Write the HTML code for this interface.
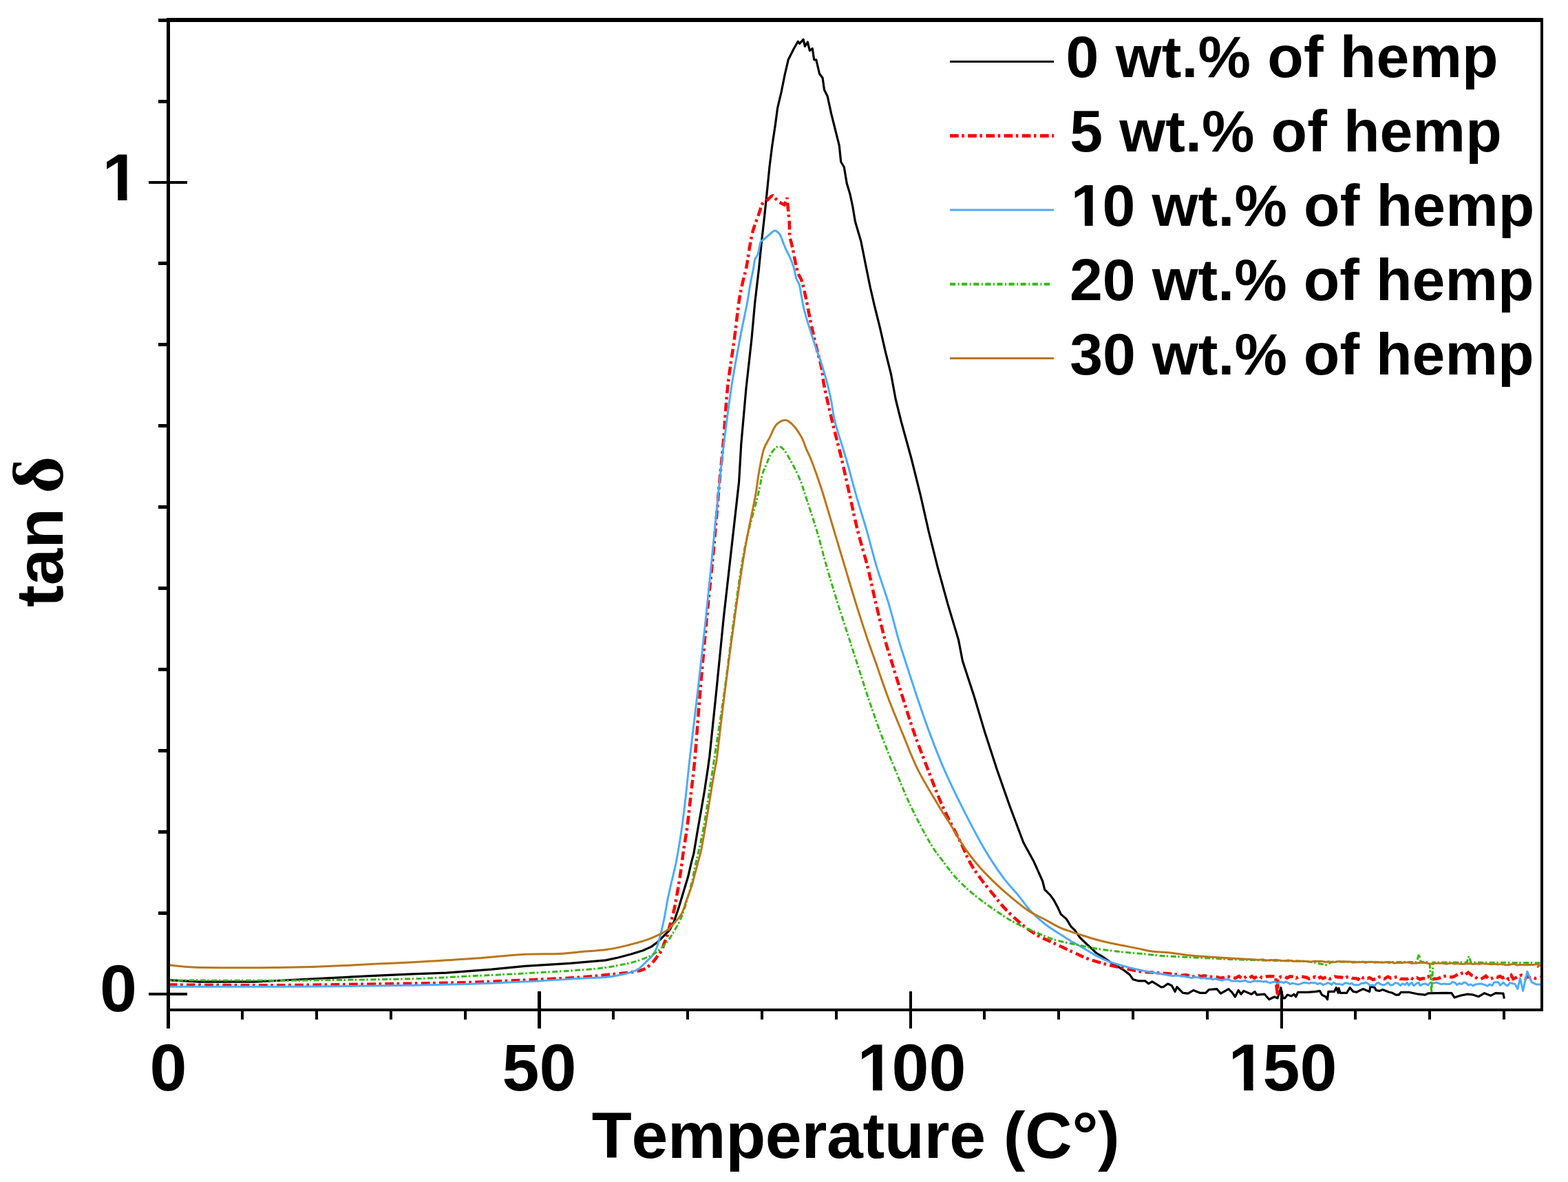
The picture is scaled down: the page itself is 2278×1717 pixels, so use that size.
<!DOCTYPE html>
<html><head><meta charset="utf-8"><title>tan delta vs temperature</title>
<style>html,body{margin:0;padding:0;background:#fff;overflow:hidden}svg{display:block} text{font-kerning:none}</style>
</head><body>
<svg width="2278" height="1717" viewBox="0 0 2278 1717">
<rect width="2278" height="1717" fill="#fff"/>
<g id="curves"><polyline points="244.9,1423.7 288.8,1426.2 370.0,1426.2 402.8,1424.5 451.6,1422.0 500.4,1419.6 549.2,1417.2 600.0,1414.8 648.8,1413.1 714.0,1408.2 762.8,1403.4 827.9,1399.3 880.0,1394.9 898.0,1391.0 916.0,1386.2 934.0,1380.8 946.0,1375.4 955.0,1368.8 964.0,1359.8 973.0,1350.8 979.5,1338.0 986.7,1316.4 993.2,1294.8 999.7,1273.2 1004.7,1251.6 1007.9,1240.0 1012.6,1211.4 1018.1,1180.2 1023.5,1149.0 1028.2,1117.8 1030.7,1100.0 1040.4,1007.2 1051.4,896.6 1062.5,798.3 1073.6,700.0 1076.8,644.9 1084.0,563.9 1092.0,492.0 1096.7,440.0 1102.3,392.4 1106.4,351.6 1111.0,310.8 1114.8,274.0 1117.9,242.8 1121.8,211.6 1126.5,180.4 1129.6,157.0 1135.1,133.6 1139.8,110.2 1145.2,86.8 1153.0,71.2 1159.3,60.3 1161.6,63.4 1167.1,57.2 1169.4,67.3 1173.3,61.0 1176.4,73.5 1180.3,70.4 1182.7,86.8 1185.8,86.8 1190.5,107.0 1195.1,113.3 1197.5,130.5 1202.2,139.8 1207.6,164.8 1215.4,196.0 1219.3,211.6 1221.7,235.0 1226.3,242.8 1230.2,266.2 1234.9,281.8 1238.8,300.0 1242.4,321.8 1250.8,350.4 1257.5,384.0 1264.3,417.5 1270.1,442.7 1278.5,476.3 1286.1,509.9 1294.5,543.5 1301.2,580.0 1309.4,612.8 1323.9,665.5 1337.1,718.3 1349.0,771.1 1362.2,823.9 1376.7,876.6 1392.5,929.4 1398.4,960.0 1415.6,1012.8 1431.4,1065.6 1448.6,1118.4 1467.1,1171.2 1486.9,1224.0 1501.4,1250.4 1514.7,1280.0 1517.7,1292.2 1525.9,1300.4 1531.0,1307.5 1537.1,1318.8 1541.2,1327.9 1549.4,1335.1 1555.5,1345.3 1561.6,1351.4 1568.7,1361.6 1576.9,1369.7 1585.0,1376.9 1592.2,1384.0 1602.4,1390.1 1612.6,1397.3 1622.8,1403.4 1633.0,1409.5 1641.1,1415.6 1646.2,1422.8 1653.4,1424.8 1663.6,1424.8 1668.7,1428.9 1673.8,1425.8 1678.9,1428.9 1687.0,1434.0 1690.0,1433.7 1696.6,1429.0 1702.3,1431.8 1707.1,1440.4 1709.9,1433.7 1713.7,1437.5 1718.5,1442.3 1726.1,1443.2 1733.7,1438.5 1743.2,1442.3 1751.7,1442.3 1756.5,1437.5 1767.9,1436.6 1773.5,1443.2 1784.9,1436.6 1789.7,1441.3 1794.4,1448.0 1799.2,1438.5 1803.0,1444.2 1806.8,1439.4 1818.2,1444.2 1822.9,1440.4 1825.8,1445.1 1837.2,1444.2 1843.8,1451.8 1851.4,1448.0 1856.1,1449.9 1860.9,1434.7 1863.7,1449.9 1866.6,1449.9 1870.4,1445.1 1876.1,1447.0 1879.9,1444.2 1882.7,1448.0 1885.6,1441.3 1900.0,1441.3 1911.8,1440.4 1917.5,1439.4 1920.4,1445.1 1926.1,1448.0 1928.5,1451.8 1929.9,1440.4 1938.4,1440.4 1941.3,1434.7 1944.1,1442.3 1945.1,1435.6 1947.0,1442.3 1956.5,1442.3 1961.2,1434.7 1966.0,1440.4 1970.7,1441.3 1980.2,1436.6 1989.7,1440.4 1990.6,1433.7 1994.4,1433.7 1997.3,1434.7 1999.2,1438.5 2003.9,1439.4 2008.7,1437.5 2018.2,1441.3 2022.9,1442.3 2027.7,1445.1 2032.4,1445.1 2035.3,1441.3 2046.7,1441.3 2060.9,1444.2 2070.4,1445.1 2075.1,1442.8 2100.0,1442.3 2108.9,1442.7 2113.1,1449.1 2121.5,1446.3 2132.0,1444.1 2139.1,1444.8 2148.2,1447.7 2156.6,1442.7 2165.7,1446.3 2172.7,1442.7 2183.9,1443.1 2185.3,1450.5" fill="none" stroke="#000" stroke-width="3.2" stroke-linejoin="round"/>
<path d="M244.9,1430.5C271.2,1430.6 343.6,1431.5 402.8,1431.2C462.0,1430.9 553.6,1429.3 600.0,1428.6C646.4,1427.9 654.3,1427.8 681.4,1427.0C708.5,1426.2 735.7,1424.9 762.8,1423.7C789.9,1422.5 824.5,1420.8 844.0,1419.6C863.5,1418.3 870.0,1417.2 880.0,1416.2C890.0,1415.2 897.0,1414.6 904.0,1413.8C911.0,1413.0 916.5,1412.5 922.0,1411.4C927.5,1410.3 932.5,1409.6 937.0,1407.2C941.5,1404.8 946.0,1400.0 949.0,1397.0C952.0,1394.0 953.0,1391.9 955.0,1389.2C957.0,1386.5 959.3,1384.0 961.0,1380.8C962.7,1377.6 963.7,1373.3 965.0,1370.0C966.3,1366.7 967.5,1365.1 968.8,1361.0C970.1,1356.9 971.3,1351.4 973.0,1345.2C974.7,1339.0 977.1,1330.8 978.8,1323.6C980.5,1316.4 981.8,1309.2 983.1,1302.0C984.4,1294.8 985.6,1287.6 986.7,1280.4C987.9,1273.2 989.0,1266.0 990.0,1258.8C991.0,1251.6 991.4,1247.0 992.8,1237.2C994.2,1227.4 996.6,1214.5 998.5,1200.0C1000.4,1185.5 1002.3,1166.7 1004.2,1150.0C1006.1,1133.3 1007.6,1123.8 1009.7,1100.0C1011.8,1076.2 1014.1,1041.1 1017.0,1007.2C1019.9,973.3 1023.6,931.4 1026.9,896.6C1030.2,861.8 1033.6,831.1 1036.7,798.3C1039.8,765.5 1043.0,725.6 1045.3,700.0C1047.6,674.4 1048.8,667.6 1050.7,644.9C1052.7,622.2 1054.3,589.4 1057.0,563.9C1059.7,538.4 1064.2,512.6 1066.9,492.0C1069.6,471.4 1071.4,453.2 1073.3,440.0C1075.2,426.8 1076.5,421.6 1078.4,412.8C1080.3,404.0 1082.8,395.8 1084.5,387.3C1086.2,378.8 1087.1,370.3 1088.6,361.8C1090.1,353.3 1091.4,344.5 1093.6,336.3C1095.8,328.1 1099.4,319.6 1101.8,312.8C1104.2,306.0 1105.7,299.2 1107.9,295.5C1110.1,291.8 1112.5,292.3 1115.0,290.4C1117.5,288.5 1120.5,283.8 1123.2,284.3L1131.4,293.5L1139.5,297.5L1143.6,287.3L1144.6,300.6L1146.7,321.0L1147.2,341.4C1148.0,348.2 1150.4,355.0 1151.8,361.8C1153.2,368.6 1154.4,376.2 1155.8,382.2C1157.2,388.2 1158.4,393.5 1160.0,398.0C1161.6,402.5 1163.4,403.1 1165.2,409.2C1167.0,415.2 1169.0,424.5 1171.1,434.3C1173.2,444.1 1175.4,456.7 1177.8,467.9C1180.2,479.1 1182.6,490.3 1185.3,501.5C1188.0,512.7 1191.7,525.4 1193.7,535.1C1195.7,544.9 1194.7,547.0 1197.3,560.0C1199.9,573.0 1205.0,595.2 1209.2,612.8C1213.4,630.4 1218.2,647.9 1222.4,665.5C1226.6,683.1 1230.2,700.7 1234.2,718.3C1238.2,735.9 1241.7,753.5 1246.1,771.1C1250.5,788.7 1256.2,806.3 1260.6,823.9C1265.0,841.5 1268.3,859.0 1272.5,876.6C1276.7,894.2 1282.0,915.5 1285.7,929.4C1289.5,943.3 1290.7,946.1 1295.0,960.0C1299.3,973.9 1305.7,995.2 1311.3,1012.8C1316.9,1030.4 1322.2,1048.0 1328.4,1065.6C1334.6,1083.2 1341.5,1100.8 1348.3,1118.4C1355.1,1136.0 1361.5,1153.6 1369.4,1171.2C1377.3,1188.8 1389.2,1210.4 1395.8,1224.0C1402.4,1237.6 1404.3,1244.0 1409.2,1252.9C1414.1,1261.8 1419.5,1269.1 1425.4,1277.2C1431.3,1285.3 1438.9,1294.2 1444.8,1301.5C1450.7,1308.8 1454.5,1314.2 1461.0,1320.9C1467.5,1327.7 1476.2,1335.8 1483.7,1342.0C1491.2,1348.2 1498.6,1353.6 1506.3,1358.2C1514.0,1362.8 1521.5,1365.5 1530.0,1369.5C1538.5,1373.5 1548.8,1378.5 1557.5,1382.5C1566.2,1386.5 1573.3,1390.0 1582.0,1393.2C1590.7,1396.4 1601.0,1399.2 1609.5,1401.4C1618.0,1403.6 1624.8,1404.8 1633.0,1406.5L1658.5,1411.6L1700.0,1414.5L1704.1,1416.0L1708.1,1415.6L1712.3,1415.5L1716.3,1416.9L1721.0,1416.2L1724.5,1416.4L1729.3,1417.9L1732.2,1418.7L1737.3,1418.3L1741.6,1417.3L1744.4,1418.3L1747.3,1417.7L1750.7,1417.4L1754.6,1418.6L1759.5,1419.0L1763.8,1419.2L1768.2,1419.3L1771.7,1420.7L1776.8,1420.3L1781.3,1418.9L1784.7,1418.8L1787.7,1420.1L1791.4,1420.4L1795.2,1420.7L1800.0,1418.0L1803.3,1420.6L1807.2,1420.8L1811.0,1418.2L1815.3,1420.2L1818.7,1418.2L1822.3,1420.8L1826.9,1418.2L1830.3,1418.2L1833.3,1420.3L1836.5,1419.6L1840.4,1418.4L1844.9,1418.2L1849.3,1418.2L1853.1,1418.5L1856.0,1446.0L1856.5,1420.9L1861.3,1418.7L1866.2,1418.4L1869.9,1420.7L1874.3,1418.2L1879.5,1418.7L1882.9,1420.8L1886.5,1419.2L1889.4,1418.5L1893.6,1419.1L1897.9,1419.7L1901.8,1421.9L1905.7,1420.5L1910.6,1419.1L1913.8,1421.8L1918.5,1419.4L1921.8,1421.3L1926.9,1419.2L1931.9,1421.9L1936.2,1420.2L1939.2,1418.7L1944.3,1419.5L1948.8,1419.6L1953.6,1421.0L1957.1,1419.3L1961.6,1418.9L1965.0,1421.0L1969.8,1421.2L1973.3,1422.6L1976.6,1418.7L1980.0,1420.6L1983.0,1419.5L1986.7,1421.2L1989.8,1420.3L1994.7,1423.1L1999.1,1421.8L2003.3,1419.4L2006.2,1418.8L2011.2,1421.9L2016.3,1418.7L2020.6,1420.8L2025.2,1420.0L2030.4,1418.8L2034.5,1422.0L2039.4,1421.9L2043.9,1422.2L2048.9,1420.0L2053.4,1422.7L2058.3,1420.3L2063.0,1422.5L2067.1,1421.3L2070.8,1421.1L2075.1,1418.5L2079.4,1423.1L2084.4,1421.8L2088.1,1421.8L2092.3,1420.2L2097.1,1418.3L2101.7,1417.6L2105.9,1419.0L2109.3,1419.4L2113.3,1418.1L2118.3,1415.0L2121.1,1414.6L2125.5,1413.0L2128.8,1416.1L2133.1,1412.6L2138.1,1416.7L2142.5,1418.3L2146.3,1421.7L2151.3,1422.1L2155.0,1420.4L2158.6,1417.8L2162.6,1421.8L2167.4,1421.0L2172.5,1418.5L2175.7,1419.5L2179.2,1418.0L2183.0,1420.4L2186.9,1418.6L2191.8,1422.5L2195.6,1417.0L2198.5,1421.9L2201.4,1420.8L2205.6,1418.4L2210.3,1416.5L2213.4,1419.2L2216.3,1421.5L2219.6,1417.2L2222.6,1420.2L2226.4,1420.2L2230.8,1421.3L2235.9,1420.5L2238.0,1419.3" fill="none" stroke="#ff0000" stroke-width="4.5" stroke-dasharray="12.7 4.5 3.6 5.4"/>
<path d="M244.9,1433.2C271.2,1433.2 363.0,1433.3 402.8,1433.2C442.6,1433.1 451.1,1433.0 484.0,1432.7C516.9,1432.4 567.1,1431.8 600.0,1431.2C632.9,1430.7 654.3,1430.2 681.4,1429.4C708.5,1428.6 735.7,1427.4 762.8,1426.1C789.9,1424.8 824.5,1422.4 844.0,1421.3C863.5,1420.2 871.0,1420.2 880.0,1419.5C889.0,1418.8 892.0,1418.0 898.0,1416.8C904.0,1415.6 911.0,1414.2 916.0,1412.6C921.0,1411.0 924.0,1410.0 928.0,1407.2C932.0,1404.4 937.0,1398.6 940.0,1395.8C943.0,1393.0 944.0,1392.7 946.0,1390.3C948.0,1387.9 950.5,1384.1 952.0,1381.4C953.5,1378.7 953.8,1377.7 955.0,1374.0C956.2,1370.3 957.9,1364.0 959.2,1359.0C960.5,1354.0 961.7,1349.0 962.8,1344.0C963.9,1339.0 964.9,1334.8 966.0,1329.0C967.1,1323.2 968.2,1315.8 969.5,1309.0C970.8,1302.2 972.4,1295.2 974.0,1288.0C975.6,1280.8 977.6,1273.3 979.2,1266.0C980.8,1258.7 981.8,1255.4 983.8,1244.4C985.8,1233.4 988.8,1215.7 991.0,1200.0C993.2,1184.3 995.1,1166.7 997.0,1150.0C998.9,1133.3 999.6,1123.8 1002.3,1100.0C1005.0,1076.2 1009.4,1041.1 1013.3,1007.2C1017.2,973.3 1021.9,931.4 1025.6,896.6C1029.3,861.8 1032.2,831.1 1035.5,798.3C1038.8,765.5 1042.6,725.6 1045.3,700.0C1048.0,674.4 1048.8,667.6 1051.6,644.9C1054.4,622.2 1058.5,589.4 1062.4,563.9C1066.3,538.4 1071.2,512.6 1075.0,492.0C1078.8,471.4 1083.2,452.4 1085.5,440.0C1087.8,427.6 1088.1,423.8 1089.1,417.9C1090.1,412.0 1090.8,408.9 1091.6,404.6C1092.4,400.4 1093.3,397.0 1094.2,392.4C1095.1,387.8 1095.6,380.9 1096.7,377.1C1097.8,373.4 1099.8,372.4 1100.8,369.9C1101.8,367.3 1102.1,364.9 1102.8,361.8C1103.5,358.8 1103.7,354.0 1104.9,351.6C1106.1,349.2 1108.0,349.2 1110.0,347.5C1112.0,345.8 1114.9,343.3 1117.1,341.4C1119.3,339.5 1121.5,337.3 1123.2,336.3C1124.9,335.3 1125.6,334.5 1127.3,335.3C1129.0,336.1 1131.7,338.7 1133.4,341.4C1135.1,344.1 1136.1,348.2 1137.5,351.6C1138.9,355.0 1140.1,358.4 1141.6,361.8C1143.1,365.2 1144.8,367.8 1146.7,372.0C1148.6,376.2 1151.1,381.9 1152.8,387.3C1154.5,392.7 1155.5,400.4 1156.9,404.6C1158.3,408.9 1159.8,408.9 1161.0,412.8C1162.2,416.7 1162.8,421.6 1164.0,428.0C1165.2,434.4 1166.1,441.6 1168.5,451.0C1170.9,460.4 1175.5,474.9 1178.6,484.7C1181.7,494.5 1184.6,502.9 1187.0,509.9C1189.4,516.9 1190.7,519.7 1192.9,526.7C1195.2,533.7 1198.1,543.0 1200.5,551.9C1202.9,560.8 1205.1,569.9 1207.2,580.0C1209.3,590.1 1209.5,598.5 1213.1,612.8C1216.7,627.0 1223.9,647.9 1229.0,665.5C1234.1,683.1 1238.5,700.7 1243.5,718.3C1248.5,735.9 1254.2,753.5 1259.3,771.1C1264.3,788.7 1268.5,806.3 1273.8,823.9C1279.1,841.5 1285.7,859.0 1291.0,876.6C1296.3,894.2 1301.5,915.5 1305.5,929.4C1309.5,943.3 1310.7,946.1 1315.2,960.0C1319.7,973.9 1326.5,995.2 1332.4,1012.8C1338.4,1030.4 1344.3,1048.0 1350.9,1065.6C1357.5,1083.2 1364.3,1100.8 1372.0,1118.4C1379.7,1136.0 1388.3,1153.6 1397.1,1171.2C1405.9,1188.8 1417.5,1210.8 1424.8,1224.0C1432.1,1237.2 1435.0,1241.6 1440.7,1250.4C1446.4,1259.2 1452.5,1268.3 1459.1,1276.8C1465.6,1285.3 1473.8,1293.8 1480.0,1301.4C1486.2,1309.0 1490.3,1315.7 1496.6,1322.5C1502.9,1329.3 1510.1,1336.0 1517.7,1342.0C1525.3,1348.0 1535.8,1354.1 1542.0,1358.2C1548.2,1362.3 1550.0,1363.5 1555.0,1366.5C1560.0,1369.5 1565.6,1372.3 1571.8,1375.9C1578.0,1379.5 1585.4,1384.5 1592.2,1388.1C1599.0,1391.7 1605.8,1394.8 1612.6,1397.3C1619.4,1399.8 1626.2,1401.5 1633.0,1403.4C1639.8,1405.3 1646.6,1407.0 1653.4,1408.5L1673.8,1412.6L1700.0,1416.9L1702.5,1417.6L1704.9,1417.6L1707.9,1417.0L1711.1,1417.2L1714.1,1417.5L1716.6,1418.3L1720.4,1418.0L1723.0,1419.2L1727.1,1419.4L1730.1,1420.4L1732.4,1420.4L1735.2,1419.2L1737.7,1419.7L1741.5,1419.8L1744.9,1421.0L1747.8,1421.1L1750.2,1420.2L1752.8,1421.8L1755.9,1421.2L1759.2,1421.8L1762.1,1422.8L1765.6,1421.8L1769.0,1422.7L1772.9,1423.5L1775.7,1424.3L1778.2,1423.1L1781.9,1422.7L1785.0,1422.6L1788.6,1424.7L1791.9,1425.2L1794.7,1424.9L1798.1,1424.9L1801.2,1425.8L1805.3,1425.1L1808.8,1424.2L1812.4,1426.0L1816.5,1426.8L1819.3,1425.7L1822.8,1424.7L1826.0,1425.2L1828.4,1425.0L1832.2,1425.3L1834.9,1426.2L1838.8,1425.3L1841.9,1426.9L1845.8,1427.8L1849.7,1426.3L1852.8,1426.6L1856.7,1428.7L1859.2,1426.2L1861.9,1426.5L1865.1,1427.8L1867.8,1426.0L1870.9,1427.3L1874.2,1429.5L1877.8,1428.2L1881.2,1428.9L1883.5,1429.8L1887.3,1429.9L1891.0,1428.4L1894.0,1427.5L1897.5,1427.5L1899.9,1428.1L1902.4,1428.6L1904.8,1427.3L1907.3,1427.7L1910.2,1427.4L1914.2,1429.6L1916.7,1428.2L1919.6,1428.7L1922.1,1430.6L1926.2,1429.1L1929.4,1427.5L1931.8,1428.6L1934.6,1430.5L1937.1,1427.3L1941.2,1429.3L1943.7,1429.4L1946.0,1429.3L1950.1,1430.7L1953.7,1428.2L1956.6,1427.8L1960.4,1429.3L1964.1,1428.5L1966.8,1430.6L1970.9,1430.8L1974.7,1430.6L1978.3,1428.0L1981.6,1428.5L1983.9,1427.1L1986.6,1428.1L1990.2,1431.3L1993.3,1431.2L1997.5,1431.3L2000.4,1427.9L2003.1,1427.8L2005.7,1429.8L2009.7,1430.9L2012.8,1430.0L2016.6,1427.2L2020.1,1431.2L2023.9,1430.5L2027.0,1427.6L2030.8,1428.4L2034.5,1431.6L2037.5,1428.8L2041.6,1430.4L2044.2,1427.3L2046.7,1431.4L2050.5,1427.4L2054.3,1431.8L2057.8,1428.5L2061.1,1427.3L2063.4,1431.8L2066.9,1429.4L2070.9,1428.9L2074.8,1431.1L2077.5,1427.9L2080.3,1427.9L2083.6,1428.0L2086.7,1427.3L2090.7,1428.5L2093.8,1429.8L2097.8,1428.9L2101.8,1429.4L2105.0,1429.5L2107.3,1429.0L2109.9,1426.5L2113.7,1427.4L2116.8,1430.7L2120.1,1428.3L2123.3,1429.7L2127.1,1427.0L2130.4,1427.9L2133.2,1431.1L2136.4,1429.8L2140.1,1432.0L2143.2,1430.1L2146.4,1429.5L2150.0,1429.1L2153.2,1429.3L2157.3,1430.7L2161.2,1432.3L2163.9,1429.8L2168.0,1431.6L2170.5,1427.0L2173.6,1426.7L2176.3,1426.7L2179.8,1431.3L2183.8,1427.2L2187.4,1430.5L2189.9,1432.0L2194.0,1427.6L2198.1,1428.8L2201.0,1429.5L2204.9,1436.4L2208.4,1421.0L2212.6,1439.2L2218.9,1411.2L2225.2,1426.6L2232.3,1430.1L2238.0,1430.1" fill="none" stroke="#4caaff" stroke-width="3" stroke-linejoin="round"/>
<path d="M244.9,1420.0L245.5,1424.0L402.8,1424.4C442.6,1424.3 451.1,1424.0 484.0,1423.6C516.9,1423.2 567.1,1422.7 600.0,1421.8C632.9,1420.9 654.3,1419.3 681.4,1418.0C708.5,1416.7 735.7,1415.4 762.8,1413.9C789.9,1412.4 824.6,1410.4 844.1,1409.0C863.6,1407.6 869.0,1406.9 880.0,1405.4C891.0,1403.9 902.0,1401.7 910.0,1400.0C918.0,1398.3 922.0,1397.2 928.0,1395.2C934.0,1393.2 941.0,1390.6 946.0,1388.0C951.0,1385.4 954.0,1383.1 958.0,1379.6C962.0,1376.1 967.0,1370.6 970.0,1367.0C973.0,1363.4 974.2,1360.8 976.0,1358.0C977.8,1355.2 979.1,1353.3 981.0,1350.0C982.9,1346.7 985.4,1342.4 987.4,1338.0C989.4,1333.6 991.2,1329.6 993.2,1323.6C995.2,1317.6 997.7,1309.2 999.7,1302.0C1001.7,1294.8 1003.7,1287.6 1005.4,1280.4C1007.1,1273.2 1008.2,1266.0 1009.8,1258.8C1011.4,1251.6 1013.0,1245.1 1014.8,1237.2C1016.6,1229.3 1018.5,1220.9 1020.4,1211.4C1022.2,1201.9 1024.2,1190.6 1025.9,1180.2C1027.6,1169.8 1028.9,1159.4 1030.5,1149.0C1032.1,1138.6 1034.2,1126.0 1035.4,1117.8C1036.7,1109.6 1035.2,1118.5 1038.0,1100.0C1040.8,1081.5 1047.2,1040.9 1052.0,1007.0C1056.8,973.1 1061.6,931.4 1066.5,896.6C1071.4,861.8 1075.8,827.7 1081.5,798.3C1087.2,768.9 1096.7,738.1 1101.0,720.0C1105.3,701.9 1105.2,697.8 1107.4,689.8C1109.7,681.8 1112.4,676.9 1114.5,671.8C1116.6,666.7 1117.9,662.8 1120.0,659.2C1122.1,655.6 1125.1,652.1 1127.1,650.3C1129.1,648.5 1130.2,648.2 1132.0,648.5C1133.8,648.8 1135.7,649.9 1137.9,652.3C1140.1,654.7 1142.5,658.5 1145.1,662.9C1147.7,667.3 1150.7,672.7 1153.7,678.7C1156.7,684.7 1160.4,692.2 1163.1,698.8C1165.8,705.4 1165.7,706.2 1169.6,718.3C1173.5,730.3 1181.4,753.5 1186.7,771.1C1192.0,788.7 1196.1,806.3 1201.2,823.9C1206.3,841.5 1211.6,859.0 1217.1,876.6C1222.6,894.2 1229.7,915.5 1234.2,929.4C1238.7,943.3 1239.5,946.1 1244.0,960.0C1248.5,973.9 1255.2,995.2 1261.1,1012.8C1267.0,1030.4 1273.0,1048.0 1279.6,1065.6C1286.2,1083.2 1293.4,1100.8 1300.7,1118.4C1308.0,1136.0 1314.8,1153.6 1323.2,1171.2C1331.6,1188.8 1343.2,1210.8 1350.9,1224.0C1358.6,1237.2 1362.8,1241.6 1369.4,1250.4C1376.0,1259.2 1382.2,1268.0 1390.5,1276.8C1398.8,1285.6 1408.5,1294.4 1419.5,1303.2C1430.5,1312.0 1446.4,1322.9 1456.5,1329.6C1466.6,1336.3 1471.8,1339.0 1480.0,1343.2C1488.2,1347.4 1497.0,1350.9 1505.5,1354.5C1514.0,1358.1 1521.7,1361.8 1531.0,1364.7C1540.3,1367.6 1551.4,1369.6 1561.6,1371.8C1571.8,1374.0 1582.0,1376.2 1592.2,1377.9C1602.4,1379.6 1612.6,1380.8 1622.8,1382.0C1633.0,1383.2 1643.2,1384.0 1653.4,1385.0C1663.6,1386.0 1676.2,1387.4 1684.0,1388.1C1691.8,1388.8 1691.5,1388.6 1700.0,1389.1C1708.5,1389.6 1721.3,1390.2 1735.3,1390.9C1749.3,1391.6 1767.8,1392.7 1784.1,1393.4C1800.4,1394.1 1813.7,1394.5 1833.0,1395.0L1900.0,1396.6L1927.9,1402.0L1935.0,1397.0L2000.0,1397.5L2058.0,1397.5L2061.5,1386.3L2064.0,1397.0L2077.0,1398.0L2079.7,1441.6L2082.0,1398.0L2131.0,1398.0L2134.0,1388.8L2137.0,1398.0L2238.0,1398.7" fill="none" stroke="#35b814" stroke-width="3" stroke-dasharray="8 2.5 2.5 3.5"/>
<path d="M244.9,1401.7C250.9,1402.2 262.5,1404.3 280.7,1405.0C298.9,1405.7 333.6,1405.7 354.0,1405.8C374.4,1405.9 386.5,1405.7 402.8,1405.5C419.1,1405.3 435.3,1405.0 451.6,1404.5C467.9,1404.0 484.2,1403.3 500.4,1402.6C516.6,1401.9 532.4,1400.9 549.0,1400.1C565.6,1399.3 577.9,1398.9 600.0,1397.7C622.1,1396.5 654.3,1394.7 681.4,1392.8C708.5,1390.9 741.1,1387.5 762.8,1386.3C784.5,1385.1 797.1,1386.1 811.6,1385.4C826.1,1384.7 838.6,1383.0 850.0,1382.0C861.4,1381.0 870.0,1381.0 880.0,1379.6C890.0,1378.2 900.0,1376.0 910.0,1373.6C920.0,1371.2 932.0,1367.9 940.0,1365.2C948.0,1362.5 953.0,1359.8 958.0,1357.4C963.0,1355.0 966.5,1353.4 970.0,1350.8C973.5,1348.2 975.4,1345.5 978.8,1341.6C982.2,1337.7 987.3,1332.6 990.3,1327.2C993.3,1321.8 994.4,1315.8 996.8,1309.2C999.2,1302.6 1002.4,1294.8 1004.7,1287.6C1007.0,1280.4 1008.6,1273.2 1010.5,1266.0C1012.4,1258.8 1014.8,1249.6 1016.2,1244.4C1017.6,1239.2 1017.4,1241.8 1018.7,1235.0C1020.1,1228.2 1022.5,1214.0 1024.3,1203.6C1026.1,1193.2 1027.7,1182.8 1029.4,1172.4C1031.1,1162.0 1032.7,1151.6 1034.4,1141.2C1036.2,1130.8 1038.7,1116.9 1039.9,1110.0C1041.1,1103.1 1039.5,1117.1 1041.6,1100.0C1043.7,1082.9 1048.4,1041.1 1052.7,1007.2C1057.0,973.3 1062.5,931.4 1067.4,896.6C1072.3,861.8 1077.2,827.7 1082.2,798.3C1087.2,768.9 1094.2,738.1 1097.5,720.0C1100.8,701.9 1100.0,700.8 1102.0,689.8C1104.0,678.8 1106.5,662.9 1109.2,653.9C1111.9,644.9 1115.1,641.9 1118.1,635.9C1121.1,629.9 1123.8,622.1 1127.1,617.9C1130.4,613.7 1134.9,611.8 1137.9,610.7C1140.9,609.7 1142.2,609.9 1145.1,611.6C1147.9,613.3 1151.7,616.7 1155.0,620.7C1158.3,624.8 1162.1,630.4 1164.9,635.9C1167.8,641.4 1170.0,649.0 1172.1,653.9C1174.2,658.8 1175.1,659.5 1177.5,665.5C1179.9,671.5 1183.4,681.0 1186.5,689.8C1189.6,698.6 1191.8,704.8 1196.0,718.3C1200.2,731.8 1206.5,753.5 1211.8,771.1C1217.1,788.7 1222.3,806.3 1227.6,823.9C1232.9,841.5 1238.0,859.0 1243.5,876.6C1249.0,894.2 1255.9,915.5 1260.6,929.4C1265.3,943.3 1266.6,946.1 1271.5,960.0C1276.4,973.9 1283.4,995.2 1290.0,1012.8C1296.6,1030.4 1304.0,1048.0 1311.3,1065.6C1318.6,1083.2 1324.9,1100.8 1333.7,1118.4C1342.5,1136.0 1356.4,1158.2 1364.1,1171.2C1371.8,1184.2 1374.1,1186.6 1380.0,1196.2C1385.9,1205.8 1392.9,1218.9 1399.4,1228.6C1405.9,1238.3 1412.7,1247.0 1418.9,1254.5C1425.1,1262.0 1429.7,1266.9 1436.7,1273.9C1443.7,1280.9 1451.5,1288.5 1461.0,1296.6C1470.5,1304.7 1484.0,1316.0 1493.4,1322.5C1502.9,1329.0 1509.6,1331.2 1517.7,1335.5C1525.8,1339.8 1533.0,1344.6 1542.0,1348.4C1551.0,1352.2 1563.4,1355.8 1571.8,1358.5C1580.2,1361.2 1585.4,1362.8 1592.2,1364.7C1599.0,1366.6 1605.8,1368.2 1612.6,1369.7C1619.4,1371.2 1626.2,1372.4 1633.0,1373.8C1639.8,1375.2 1646.6,1376.5 1653.4,1377.9C1660.2,1379.3 1666.0,1381.0 1673.8,1382.0C1681.6,1383.0 1689.8,1382.9 1700.0,1384.0C1710.2,1385.1 1721.3,1387.2 1735.3,1388.5L1784.1,1391.7L1820.0,1393.7L1824.6,1394.1L1829.6,1394.3L1834.7,1393.7L1838.6,1394.9L1842.9,1395.1L1846.0,1394.6L1849.4,1394.8L1853.6,1394.3L1856.9,1394.8L1861.9,1395.6L1865.1,1395.7L1868.2,1395.6L1871.3,1394.9L1876.2,1395.4L1879.5,1396.5L1884.4,1395.8L1889.5,1396.3L1893.9,1396.0L1899.0,1396.8L1904.1,1397.2L1907.6,1396.5L1910.8,1396.3L1913.8,1396.5L1918.0,1396.2L1922.5,1396.7L1926.0,1397.4L1930.0,1396.8L1933.9,1397.4L1936.9,1397.8L1939.7,1397.5L1944.5,1396.6L1949.2,1397.1L1953.4,1396.7L1956.3,1396.9L1961.4,1397.0L1966.0,1398.2L1971.1,1397.4L1974.8,1397.7L1979.4,1397.2L1984.0,1398.3L1988.9,1397.2L1993.9,1397.3L1997.6,1398.2L2002.6,1397.8L2007.6,1398.2L2011.1,1397.9L2014.4,1397.6L2017.5,1398.6L2022.7,1397.8L2025.6,1399.2L2029.7,1398.3L2033.1,1398.7L2037.9,1398.5L2041.7,1397.9L2046.7,1398.0L2050.7,1399.3L2053.8,1399.2L2058.8,1399.1L2063.5,1398.3L2067.4,1398.4L2072.2,1398.7L2076.1,1400.0L2080.9,1400.0L2084.8,1399.3L2089.4,1399.3L2092.9,1399.2L2096.0,1399.2L2101.2,1400.3L2105.5,1399.6L2109.1,1398.9L2112.6,1400.2L2117.5,1399.5L2122.1,1400.3L2126.6,1400.2L2131.2,1399.7L2135.7,1399.6L2139.7,1400.6L2144.1,1399.8L2149.2,1400.5L2153.4,1399.4L2157.5,1399.9L2161.9,1400.3L2166.7,1400.7L2171.4,1400.2L2175.8,1401.0L2180.5,1400.4L2185.4,1401.4L2189.8,1401.7L2194.9,1400.9L2199.0,1400.3L2203.8,1401.9L2207.7,1401.4L2212.3,1401.6L2215.5,1401.7L2219.7,1401.6L2223.5,1401.5L2228.1,1401.6L2232.7,1400.5L2235.9,1401.4L2234.0,1404.5L2238.0,1401.5" fill="none" stroke="#bb7518" stroke-width="3" stroke-linejoin="round"/></g>
<g id="axes"><rect x="242" y="26" width="2000" height="6" fill="#000"/><rect x="242" y="26" width="5" height="1443" fill="#000"/><rect x="2238" y="29" width="4" height="1440" fill="#000"/><rect x="242" y="1465" width="2000" height="4" fill="#000"/><rect x="216" y="1442" width="56" height="4" fill="#000"/><rect x="230" y="1324" width="13" height="5" fill="#000"/><rect x="230" y="1206" width="13" height="5" fill="#000"/><rect x="230" y="1088" width="13" height="5" fill="#000"/><rect x="230" y="970" width="13" height="5" fill="#000"/><rect x="230" y="852" width="13" height="5" fill="#000"/><rect x="230" y="734" width="13" height="5" fill="#000"/><rect x="230" y="616" width="13" height="5" fill="#000"/><rect x="230" y="498" width="13" height="5" fill="#000"/><rect x="230" y="380" width="13" height="5" fill="#000"/><rect x="216" y="263" width="56" height="4" fill="#000"/><rect x="230" y="145" width="13" height="5" fill="#000"/><rect x="230" y="27" width="13" height="5" fill="#000"/><rect x="242" y="1440" width="5" height="54" fill="#000"/><rect x="350" y="1467" width="4" height="14" fill="#000"/><rect x="458" y="1467" width="4" height="14" fill="#000"/><rect x="566" y="1467" width="4" height="14" fill="#000"/><rect x="674" y="1467" width="4" height="14" fill="#000"/><rect x="781" y="1440" width="5" height="54" fill="#000"/><rect x="889" y="1467" width="4" height="14" fill="#000"/><rect x="997" y="1467" width="4" height="14" fill="#000"/><rect x="1105" y="1467" width="4" height="14" fill="#000"/><rect x="1213" y="1467" width="4" height="14" fill="#000"/><rect x="1321" y="1440" width="4" height="54" fill="#000"/><rect x="1428" y="1467" width="4" height="14" fill="#000"/><rect x="1536" y="1467" width="4" height="14" fill="#000"/><rect x="1644" y="1467" width="4" height="14" fill="#000"/><rect x="1752" y="1467" width="4" height="14" fill="#000"/><rect x="1860" y="1440" width="4" height="54" fill="#000"/><rect x="1967" y="1467" width="4" height="14" fill="#000"/><rect x="2075" y="1467" width="4" height="14" fill="#000"/><rect x="2183" y="1467" width="4" height="14" fill="#000"/><line x1="1380" y1="89.4" x2="1531" y2="89.4" stroke="#000" stroke-width="3"/><line x1="1380" y1="197.2" x2="1531" y2="197.2" stroke="#ff0000" stroke-width="5" stroke-dasharray="12.7 4.5 3.6 5.4"/><line x1="1380" y1="305.0" x2="1531" y2="305.0" stroke="#4caaff" stroke-width="3"/><line x1="1380" y1="412.8" x2="1526" y2="412.8" stroke="#35b814" stroke-width="4" stroke-dasharray="8.2 3.5 1.9 3.5"/><line x1="1380" y1="520.6" x2="1531" y2="520.6" stroke="#bb7518" stroke-width="3"/></g>
<g id="text" font-family="Liberation Sans, Arial, Helvetica, sans-serif" font-weight="bold" fill="#000"><text x="199" y="1469" font-size="97" text-anchor="end" >0</text><text x="148.6" y="291" font-size="97" text-anchor="start" >1</text><text x="217.5" y="1584" font-size="97">0</text><text x="729.6" y="1584" font-size="97">50</text><text x="1241.6" y="1584" font-size="97"><tspan dx="4.0">1</tspan><tspan dx="-4.0">00</tspan></text><text x="1780.6" y="1584" font-size="97"><tspan dx="4.0">1</tspan><tspan dx="-4.0">50</tspan></text><text x="859.8" y="1682" font-size="95" textLength="766.9" lengthAdjust="spacing">Temperature (C°)</text><text transform="translate(90.8,882.1) rotate(-90)" font-size="96">tan <tspan x="165.3" font-family="Liberation Serif, Times New Roman, serif" font-size="104">δ</tspan></text><text x="1548.6" y="112" font-size="86" textLength="628.0" lengthAdjust="spacing">0 wt.% of hemp</text><text x="1554.2" y="220" font-size="86" textLength="627.5" lengthAdjust="spacing">5 wt.% of hemp</text><text x="1553.6" y="328" font-size="86" textLength="673.5" lengthAdjust="spacing"><tspan dx="2.2">1</tspan><tspan dx="-2.2">0 wt.% of hemp</tspan></text><text x="1553.9" y="436" font-size="86" textLength="674.6" lengthAdjust="spacing">20 wt.% of hemp</text><text x="1554.2" y="544" font-size="86" textLength="674.3" lengthAdjust="spacing">30 wt.% of hemp</text></g>
<g id="mask"><rect x="153.4" y="280.3" width="17.8" height="12.2" fill="#fff"/><rect x="184.5" y="280.3" width="16.5" height="12.2" fill="#fff"/><rect x="1250.4" y="1573.3" width="17.8" height="12.2" fill="#fff"/><rect x="1281.5" y="1573.3" width="16.5" height="12.2" fill="#fff"/><rect x="1789.4" y="1573.3" width="17.8" height="12.2" fill="#fff"/><rect x="1820.5" y="1573.3" width="16.5" height="12.2" fill="#fff"/><rect x="1560.0" y="318.5" width="15.9" height="11.0" fill="#fff"/><rect x="1587.6" y="318.5" width="14.8" height="11.0" fill="#fff"/></g>
</svg>
</body></html>
